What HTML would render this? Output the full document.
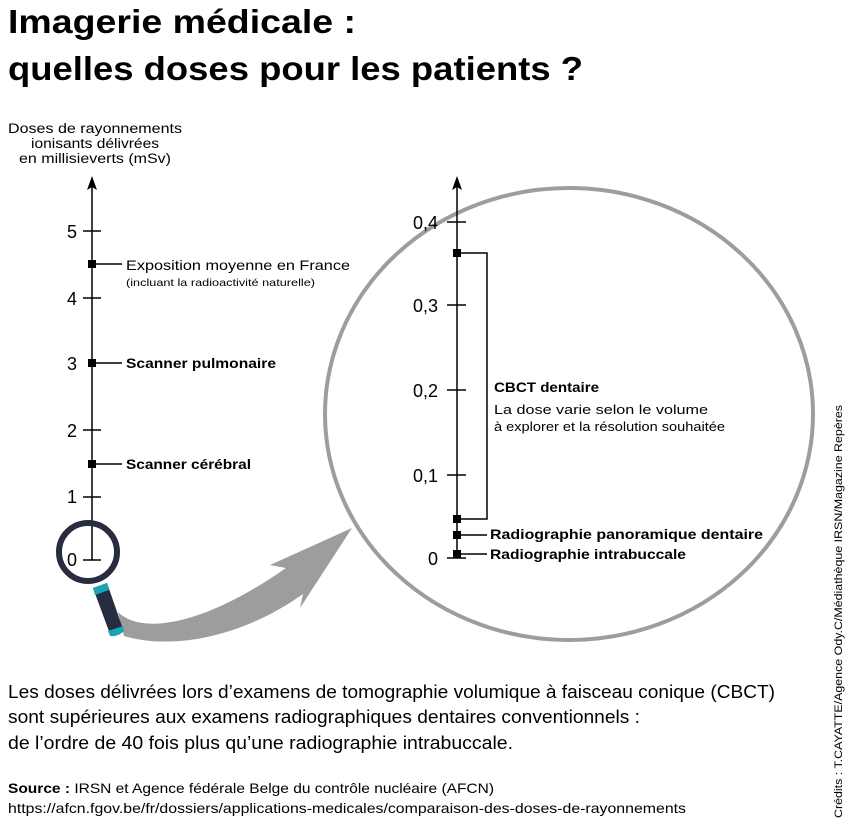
<!DOCTYPE html>
<html><head><meta charset="utf-8"><style>
html,body{margin:0;padding:0;background:#fff}
svg{display:block}
text{font-family:"Liberation Sans",sans-serif;fill:#000}
.b{font-weight:bold}
</style></head><body>
<svg width="856" height="827" viewBox="0 0 856 827" xmlns="http://www.w3.org/2000/svg">
<text x="8" y="33" class="b" font-size="33" textLength="348" lengthAdjust="spacingAndGlyphs">Imagerie médicale :</text>
<text x="8" y="80" class="b" font-size="33" textLength="575" lengthAdjust="spacingAndGlyphs">quelles doses pour les patients ?</text>

<g font-size="13.5" text-anchor="middle">
<text x="95" y="133" textLength="174" lengthAdjust="spacingAndGlyphs">Doses de rayonnements</text>
<text x="95" y="148" textLength="128" lengthAdjust="spacingAndGlyphs">ionisants délivrées</text>
<text x="95" y="163" textLength="152" lengthAdjust="spacingAndGlyphs">en millisieverts (mSv)</text>
</g>

<!-- zoom ellipse -->
<ellipse cx="569" cy="414" rx="244" ry="226" fill="none" stroke="#9d9d9d" stroke-width="4"/>

<!-- gray arrow -->
<path d="M118,612 C140,634 200,628 286,568 L270,565 L352,528 L300,608 L303,594 C250,632 180,652 124,636 Z" fill="#9d9d9d"/>

<!-- left axis -->
<g stroke="#000" stroke-width="1.5">
<line x1="92" y1="182" x2="92" y2="560"/>
<line x1="83" y1="231" x2="101" y2="231"/>
<line x1="83" y1="298" x2="101" y2="298"/>
<line x1="83" y1="430" x2="101" y2="430"/>
<line x1="83" y1="497" x2="101" y2="497"/>
<line x1="83" y1="560" x2="101" y2="560"/>
<line x1="92" y1="264" x2="122" y2="264"/>
<line x1="92" y1="363" x2="122" y2="363"/>
<line x1="92" y1="464" x2="122" y2="464"/>
</g>
<path d="M92,176 L87,190 L92,187 L97,190 Z" fill="#000"/>
<rect x="88" y="260" width="8" height="8" fill="#000"/>
<rect x="88" y="359" width="8" height="8" fill="#000"/>
<rect x="88" y="460" width="8" height="8" fill="#000"/>
<g font-size="18" text-anchor="end">
<text x="77" y="238">5</text>
<text x="77" y="305">4</text>
<text x="77" y="370">3</text>
<text x="77" y="437">2</text>
<text x="77" y="503">1</text>
<text x="77" y="566">0</text>
</g>
<text x="126" y="270" font-size="14" textLength="224" lengthAdjust="spacingAndGlyphs">Exposition moyenne en France</text>
<text x="126" y="286" font-size="10.5" textLength="189" lengthAdjust="spacingAndGlyphs">(incluant la radioactivité naturelle)</text>
<text x="126" y="368" font-size="14" class="b" textLength="150" lengthAdjust="spacingAndGlyphs">Scanner pulmonaire</text>
<text x="126" y="469" font-size="14" class="b" textLength="125" lengthAdjust="spacingAndGlyphs">Scanner cérébral</text>

<!-- magnifier -->
<path d="M93,588 L107,583 L123,629 L110,634 Z" fill="#272c40"/>
<path d="M93,588 L107,583 L109,590 L95,595 Z" fill="#19a7b3"/>
<path d="M108,631 L123,626 L124,631 Q118,637 110,636 Z" fill="#19a7b3"/>
<circle cx="88" cy="552" r="29" fill="none" stroke="#272c40" stroke-width="6"/>

<!-- right axis -->
<g stroke="#000" stroke-width="1.5">
<line x1="457" y1="182" x2="457" y2="558"/>
<line x1="447" y1="222" x2="466" y2="222"/>
<line x1="447" y1="305" x2="466" y2="305"/>
<line x1="447" y1="390" x2="466" y2="390"/>
<line x1="447" y1="475" x2="466" y2="475"/>
<line x1="447" y1="558" x2="466" y2="558"/>
<polyline points="457,253 487,253 487,519 457,519" fill="none"/>
<line x1="457" y1="535" x2="487" y2="535"/>
<line x1="457" y1="554" x2="487" y2="554"/>
</g>
<path d="M457,176 L452,190 L457,187 L462,190 Z" fill="#000"/>
<rect x="453" y="249" width="8" height="8" fill="#000"/>
<rect x="453" y="515" width="8" height="8" fill="#000"/>
<rect x="453" y="531" width="8" height="8" fill="#000"/>
<rect x="453" y="550" width="8" height="8" fill="#000"/>
<g font-size="18" text-anchor="end">
<text x="438" y="229">0,4</text>
<text x="438" y="312">0,3</text>
<text x="438" y="397">0,2</text>
<text x="438" y="482">0,1</text>
<text x="438" y="565">0</text>
</g>
<text x="494" y="392" font-size="14" class="b" textLength="105" lengthAdjust="spacingAndGlyphs">CBCT dentaire</text>
<text x="494" y="414" font-size="12.5" textLength="214" lengthAdjust="spacingAndGlyphs">La dose varie selon le volume</text>
<text x="494" y="431" font-size="12.5" textLength="231" lengthAdjust="spacingAndGlyphs">à explorer et la résolution souhaitée</text>
<text x="490" y="539" font-size="14" class="b" textLength="273" lengthAdjust="spacingAndGlyphs">Radiographie panoramique dentaire</text>
<text x="490" y="559" font-size="14" class="b" textLength="196" lengthAdjust="spacingAndGlyphs">Radiographie intrabuccale</text>

<!-- body text -->
<g font-size="18">
<text x="8" y="698" textLength="767" lengthAdjust="spacingAndGlyphs">Les doses délivrées lors d’examens de tomographie volumique à faisceau conique (CBCT)</text>
<text x="8" y="723" textLength="632" lengthAdjust="spacingAndGlyphs">sont supérieures aux examens radiographiques dentaires conventionnels :</text>
<text x="8" y="749" textLength="505" lengthAdjust="spacingAndGlyphs">de l’ordre de 40 fois plus qu’une radiographie intrabuccale.</text>
</g>
<text x="8" y="793" font-size="14" textLength="486" lengthAdjust="spacingAndGlyphs"><tspan class="b">Source :</tspan> IRSN et Agence fédérale Belge du contrôle nucléaire (AFCN)</text>
<text x="8" y="813" font-size="14" textLength="678" lengthAdjust="spacingAndGlyphs">https://afcn.fgov.be/fr/dossiers/applications-medicales/comparaison-des-doses-de-rayonnements</text>
<text transform="translate(842,818) rotate(-90)" font-size="11" textLength="413" lengthAdjust="spacingAndGlyphs">Crédits : T.CAYATTE/Agence Ody.C/Médiathèque IRSN/Magazine Repères</text>
</svg>
</body></html>
